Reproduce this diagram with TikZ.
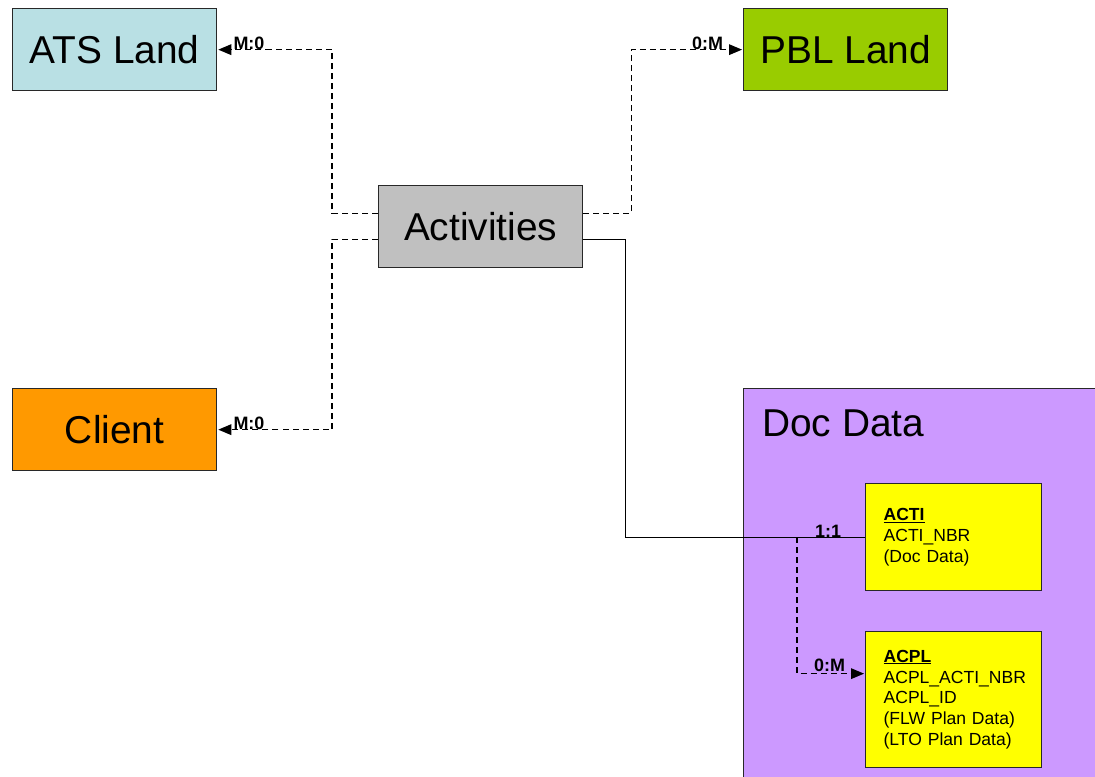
\documentclass[tikz,border=0pt]{standalone}
\usepackage{fontspec}
\setmainfont{Liberation Sans}
\usetikzlibrary{arrows.meta}
\definecolor{atsblue}{RGB}{185,224,228}
\definecolor{pblgreen}{RGB}{153,204,0}
\definecolor{actgray}{RGB}{192,192,192}
\definecolor{clientorange}{RGB}{255,153,0}
\definecolor{docpurple}{RGB}{204,153,255}
\definecolor{tableyellow}{RGB}{255,255,0}
\definecolor{edgegray}{RGB}{40,40,40}
\begin{document}
\begin{tikzpicture}[x=1bp,y=-1bp,
    entity/.style={draw=edgegray,line width=1.3bp,anchor=north west,minimum width=204bp,minimum height=82bp,inner sep=0pt,font=\fontsize{39}{47}\selectfont},
    table/.style={draw=edgegray,fill=tableyellow,line width=1.3bp,anchor=north west,minimum width=176bp,inner xsep=18bp,inner ysep=0pt,text width=140bp,align=left,font=\fontsize{17.6}{21}\selectfont},
    card/.style={inner sep=0pt,anchor=base west,font=\fontsize{18}{18}\selectfont\bfseries},
    link/.style={line width=1.2bp,dash pattern=on 6bp off 4bp},
    tip/.style={-{Triangle[length=13bp,width=11bp,sep=1bp,line width=0pt]}}]
    \useasboundingbox (0,0) rectangle (1095,777);
    % group box
    \node[draw=edgegray,fill=docpurple,line width=1.3bp,anchor=north west,minimum width=380bp,minimum height=420bp] (docdata) at (743,388) {};
    \node[anchor=west,inner sep=0pt,font=\fontsize{39}{47}\selectfont] (doctitle) at (762,423) {Doc Data};
    % entities
    \node[entity,fill=atsblue] (atsland) at (12,8) {ATS Land};
    \node[entity,fill=pblgreen] (pblland) at (743,8) {PBL Land};
    \node[entity,fill=actgray] (activities) at (378,185) {Activities};
    \node[entity,fill=clientorange] (client) at (12,388) {Client};
    \node[table,minimum height=107bp] (acti) at (865,483) {\textbf{\underline{ACTI}}\\ACTI\_NBR\\(Doc Data)};
    \node[table,minimum height=136bp] (acpl) at (865,631) {\textbf{\underline{ACPL}}\\ACPL\_ACTI\_NBR\\ACPL\_ID\\(FLW Plan Data)\\(LTO Plan Data)};
    % relations
    \draw[link,tip] ([yshift=13.5bp]activities.west) -- ++(-46,0) |- (atsland.east);
    \draw[link,tip] ([yshift=-12.5bp]activities.west) -- ++(-46,0) |- (client.east);
    \draw[link,tip] ([yshift=13.5bp]activities.east) -- ++(48,0) |- (pblland.west);
    \draw[line width=1.2bp] ([yshift=-12.5bp]activities.east) -- ++(42,0) |- (acti.west);
    \coordinate (split) at ([xshift=-68bp]acti.west);
    \draw[link,tip] (split) |- ([yshift=26bp]acpl.west);
    % cardinalities
    \node[card] (cardats) at ([xshift=16bp]atsland.east) {M:0};
    \node[card] (cardclient) at ([xshift=16bp]client.east) {M:0};
    \node[card] (cardpbl) at ([xshift=-51bp]pblland.west) {0:M};
    \node[card] (cardacti) at ([xshift=-50bp]acti.west) {1:1};
    \node[card] (cardacpl) at ([xshift=-51bp,yshift=28bp]acpl.west) {0:M};
\end{tikzpicture}
\end{document}
